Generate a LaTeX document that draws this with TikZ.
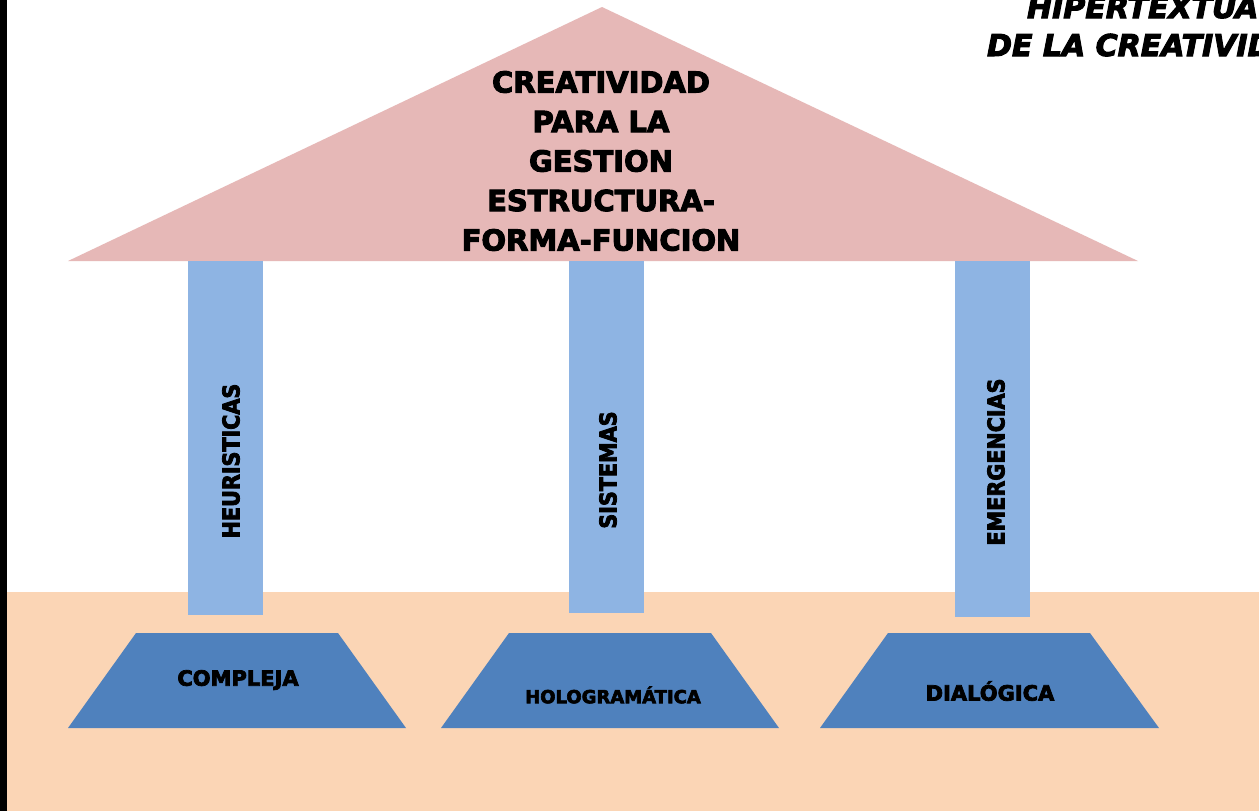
\documentclass[tikz,border=0pt]{standalone}
\usepackage{fontspec}
\setmainfont{DejaVu Sans}
\newfontfamily\heavyfont[FakeBold=3.5]{DejaVu Sans Bold}
\newfontfamily\heavycond[FakeBold=3.5]{DejaVu Sans Condensed Bold}
\definecolor{roofpink}{HTML}{E6B8B7}
\definecolor{pillarblue}{HTML}{8EB4E3}
\definecolor{basepeach}{HTML}{FBD5B5}
\definecolor{stepblue}{HTML}{4F81BD}
\tikzset{
	rooftext/.style={align=center,font=\heavyfont\fontsize{14.5}{19.75}\selectfont},
	pillartext/.style={rotate=90,font=\heavycond\fontsize{11.5}{11.5}\selectfont},
	steptext/.style={font=\heavyfont\fontsize{10.5}{10.5}\selectfont},
	titletext/.style={anchor=base west,font=\heavyfont\itshape\fontsize{15}{15}\selectfont}
}
\begin{document}
\begin{tikzpicture}[x=0.5pt,y=-0.5pt]
				\useasboundingbox (0,0) rectangle (1259,811);
				\clip (0,0) rectangle (1259,811);
				\fill[white] (0,0) rectangle (1259,811);
				\fill[black] (0,0) rectangle (7,811);
				\fill[basepeach] (7,592) rectangle (1259,811);

				\fill[roofpink] (68,261) -- (602,7) -- (1138,261) -- cycle;

				\fill[pillarblue] (188,261) rectangle (263,615);
				\fill[pillarblue] (569,261) rectangle (644,613);
				\fill[pillarblue] (955,261) rectangle (1030,617);

				\fill[stepblue] (68,728) -- (136,633) -- (338,633) -- (406,728) -- cycle;
				\fill[stepblue] (441,728) -- (509,633) -- (711,633) -- (779,728) -- cycle;
				\fill[stepblue] (820,728) -- (888,633) -- (1090,633) -- (1159,728) -- cycle;

				\node[rooftext] (roof) at (601,161) {CREATIVIDAD\\PARA LA\\GESTION\\ESTRUCTURA-\\FORMA-FUNCION};

				\node[pillartext] (heur) at (231,461) {HEURISTICAS};
				\node[pillartext] (sist) at (608,470) {SISTEMAS};
				\node[pillartext] (emer) at (996,462) {EMERGENCIAS};

				\node[steptext] (compleja) at (238,680) {COMPLEJA};
				\node[steptext,font=\heavyfont\fontsize{9}{9}\selectfont] (holo) at (613,695) {HOLOGRAMÁTICA};
				\node[steptext] (dialogica) at (990,691) {DIALÓGICA};

				\node[titletext] (titleone) at (1020,18) {HIPERTEXTUA};
				\node[titletext] (titletwo) at (980,56) {DE LA CREATIVID};
			\end{tikzpicture}
\end{document}
